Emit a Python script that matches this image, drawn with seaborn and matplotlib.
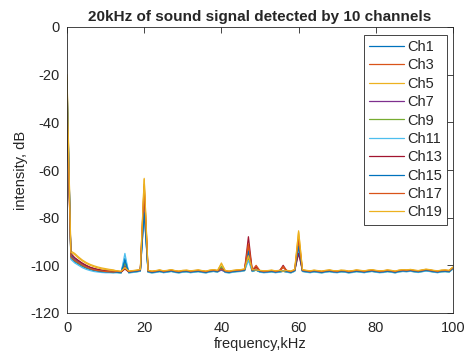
import numpy as np
import pandas as pd
import matplotlib
matplotlib.use('Agg')
import matplotlib.pyplot as plt
import seaborn as sns

sns.set_style('white')
plt.rcParams['font.family'] = ['Liberation Sans', 'DejaVu Sans']
plt.rcParams['axes.unicode_minus'] = False

# ---- data ----
channels = ['Ch1', 'Ch3', 'Ch5', 'Ch7', 'Ch9', 'Ch11', 'Ch13', 'Ch15', 'Ch17', 'Ch19']
colors = ['#0072BD', '#D95319', '#EDB120', '#7E2F8E', '#77AC30',
          '#4DBEEE', '#A2142F', '#0072BD', '#D95319', '#EDB120']

freq = list(range(0, 101))  # kHz

# first 13 points (0..12 kHz) per channel: DC spike and the decaying low end
heads = {
    'Ch1':  [-22, -97, -98.5, -99.5, -100.5, -101.2, -101.8, -102.2, -102.5, -102.7, -102.8, -102.9, -103],
    'Ch3':  [-34, -96, -97.5, -98.5, -99.5, -100.3, -101, -101.5, -101.9, -102.2, -102.4, -102.5, -102.6],
    'Ch5':  [-20, -94, -95, -96.5, -97.8, -98.8, -99.6, -100.2, -100.7, -101.1, -101.4, -101.7, -101.9],
    'Ch7':  [-26, -95.5, -97, -98.2, -99.3, -100.2, -100.9, -101.4, -101.8, -102.1, -102.3, -102.5, -102.6],
    'Ch9':  [-28, -96.5, -98, -99.2, -100.2, -101, -101.6, -102, -102.3, -102.5, -102.7, -102.8, -102.9],
    'Ch11': [-24, -97.5, -99, -100, -101, -101.7, -102.2, -102.6, -102.8, -103, -103.1, -103.1, -103.2],
    'Ch13': [-35, -95, -96.8, -98, -99.1, -100, -100.8, -101.3, -101.7, -102, -102.2, -102.4, -102.5],
    'Ch15': [-23, -96, -97.8, -99, -100, -100.9, -101.5, -102, -102.3, -102.6, -102.7, -102.8, -102.9],
    'Ch17': [-33, -96.5, -98, -99, -100, -100.8, -101.4, -101.9, -102.2, -102.4, -102.6, -102.7, -102.8],
    'Ch19': [-21, -94.5, -95.5, -97, -98.2, -99.2, -100, -100.6, -101.1, -101.5, -101.8, -102, -102.2],
}

# shared noise floor, 13..100 kHz
floor = [-102.8, -103.0, -101.5, -102.9, -102.7, -102.5, -102.2, -80.0, -102.6, -102.9,
         -102.7, -102.4, -102.8, -102.6, -102.3, -102.7, -102.9, -102.6, -102.5, -102.8,
         -102.6, -102.4, -102.7, -102.9, -102.5, -102.3, -102.6, -101.0, -102.7, -102.9,
         -102.6, -102.4, -102.3, -102.0, -95.0, -102.3, -101.8, -102.6, -102.8, -102.7,
         -102.5, -102.8, -102.6, -101.5, -102.6, -102.9, -102.2, -92.0, -102.3, -102.6,
         -102.8, -102.5, -102.7, -102.9, -102.6, -102.4, -102.7, -102.8, -102.5, -102.6,
         -102.9, -102.7, -102.4, -102.6, -102.8, -102.5, -102.3, -102.6, -102.8, -102.7,
         -102.4, -102.6, -102.9, -102.5, -102.3, -102.4, -102.2, -102.5, -102.7, -102.4,
         -102.1, -102.3, -102.6, -102.8, -102.5, -102.4, -102.6, -101.2]

# small per-channel shift of the floor
offsets = [0.0, 0.2, 0.4, -0.1, -0.2, -0.3, 0.1, 0.0, 0.3, 0.5]

# peak values per channel at 15, 20, 40, 47, 49, 56, 60 kHz
peak_freqs = [15, 20, 40, 47, 49, 56, 60]
peaks = {
    'Ch1':  [-97, -77, -101.5, -96, -102, -102.5, -91],
    'Ch3':  [-101, -66, -101, -92, -101, -101, -88],
    'Ch5':  [-101.5, -64, -99, -97, -102, -102.5, -85.5],
    'Ch7':  [-100, -73, -102, -95, -102, -102.5, -93],
    'Ch9':  [-99, -71, -100.5, -97, -102, -102.5, -90],
    'Ch11': [-95, -76, -101.5, -98, -102, -102.5, -94],
    'Ch13': [-101.5, -70, -101.5, -88, -100.5, -100, -95],
    'Ch15': [-98, -78, -101.5, -94, -102, -102.5, -92],
    'Ch17': [-101, -67, -101.5, -91, -100, -100.5, -89],
    'Ch19': [-101, -63.5, -99.5, -96, -102, -102.5, -86],
}

rows = []
for ch, off in zip(channels, offsets):
    vals = heads[ch] + [v + off for v in floor]
    for f, p in zip(peak_freqs, peaks[ch]):
        vals[f] = p
    for f, v in zip(freq, vals):
        rows.append({'freq': f, 'db': v, 'channel': ch})
df = pd.DataFrame(rows)

# ---- plot ----
fig = plt.figure(figsize=(4.69, 3.58), dpi=100)
ax = fig.add_axes([67 / 469, 45 / 358, 386 / 469, 286 / 358])

sns.lineplot(data=df, x='freq', y='db', hue='channel', hue_order=channels,
             palette=colors, linewidth=0.9, errorbar=None, ax=ax)

ax.set_xlim(0, 100)
ax.set_ylim(-120, 0)
ax.set_xticks([0, 20, 40, 60, 80, 100])
ax.set_yticks([-120, -100, -80, -60, -40, -20, 0])
ax.set_xlabel('frequency,kHz', fontsize=10.5, color='#262626', labelpad=1)
ax.set_ylabel('intensity, dB', fontsize=10.5, color='#262626', labelpad=2)
ax.set_title('20kHz of sound signal detected by 10 channels',
             fontsize=11, fontweight='bold', pad=4)

ax.tick_params(direction='in', top=True, right=True, length=4, width=0.6,
               labelsize=10.5, colors='#262626')
ax.tick_params(axis='x', pad=6)
ax.tick_params(axis='y', pad=5)
for s in ax.spines.values():
    s.set_color('#262626')
    s.set_linewidth(0.6)

leg = ax.legend(loc='upper right', bbox_to_anchor=(380 / 386, 278 / 286),
                borderaxespad=0, fontsize=10.5, frameon=True, fancybox=False,
                edgecolor='#262626', handlelength=2.4, handletextpad=0.2,
                labelspacing=0.3, borderpad=0.35)
leg.get_frame().set_linewidth(0.6)
leg.get_frame().set_alpha(1)

fig.savefig('out.png', dpi=100)
